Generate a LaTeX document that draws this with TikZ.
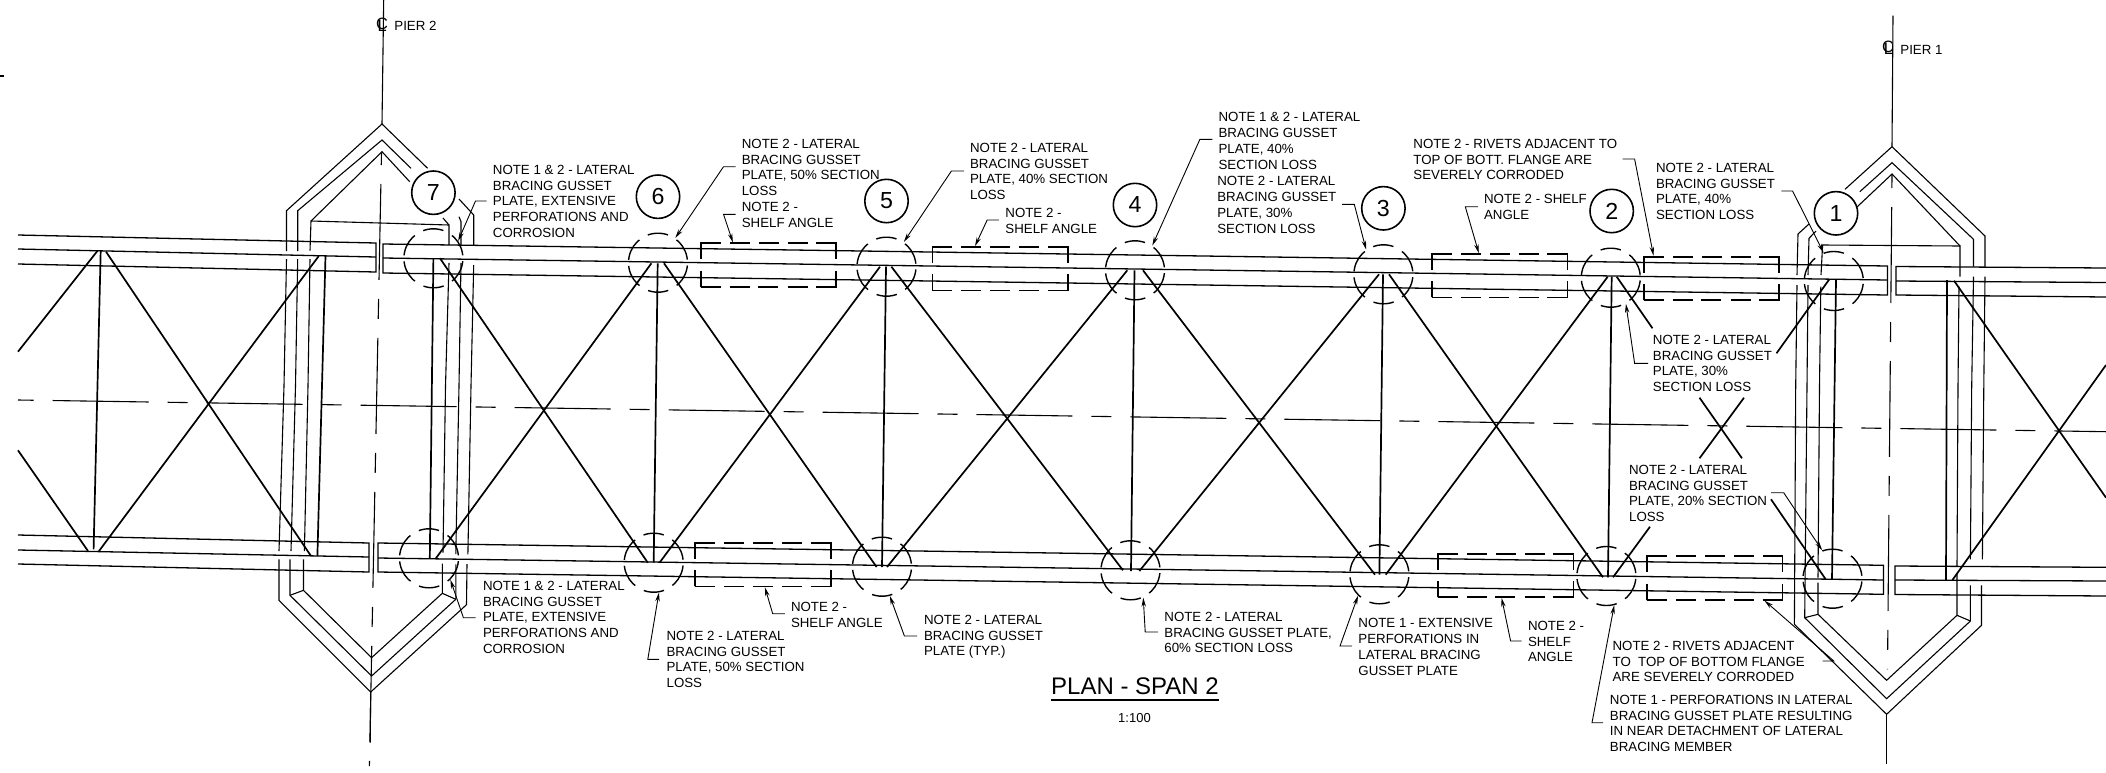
\documentclass[tikz,border=0pt]{standalone}
\usepackage{fontspec}
\setmainfont{Liberation Sans}
\usetikzlibrary{arrows.meta}
\tikzset{
  beam/.style={line width=0.85pt},
  chord/.style={line width=0.65pt},
  frame/.style={line width=0.55pt},
  axisline/.style={
    line width=0.55pt,
    dash pattern=on 10pt off 9.5pt on 48pt off 9.5pt % short and long strokes
  },
  gussetmark/.style={
    draw=black,           % black border
    circle,               % shape
    line width=0.7pt,
    minimum size=29.5pt,
    inner sep=0pt,
    dash pattern=on 10.3pt off 4.9pt on 11.6pt off 3pt on 11.6pt off 4.95pt, % short arc on top, two at the side
    dash phase=28.3pt
  },
  shelfbox/.style={
    draw=black,
    rectangle,
    line width=0.9pt,
    minimum width=67.8pt,
    minimum height=21.7pt,
    inner sep=0pt,
    dash pattern=on 10pt off 4.4pt on 10pt off 4.4pt on 10pt off 4.6pt on 10pt off 4.4pt on 18pt off 5.7pt on 8pt off 0pt
  },
  panelmark/.style={
    draw=black,
    circle,
    line width=0.8pt,
    minimum size=21.7pt,
    inner sep=0pt,
    font=\fontsize{11.6}{12}\selectfont
  },
  notetext/.style={
    anchor=north west,
    align=left,
    inner sep=0pt,
    yshift=2.4pt,
    font=\fontsize{6.65}{7.95}\selectfont
  },
  clmark/.style={
    inner sep=0pt,
    font=\fontsize{8.2}{9}\selectfont
  },
  leader/.style={
    line width=0.45pt,
    -{Stealth[length=4.5pt,width=2.2pt]}
  }
}
\begin{document}
\begin{tikzpicture}[x=0.5pt,y=-0.5pt]
\useasboundingbox (0,0) rectangle (2106,772);

% stray sheet mark
\draw[frame] (0,76) -- (4,76);

% chords, north side
\draw[chord] (18,235) -- (376,243) -- (376,272) -- (18,264);
\draw[chord] (18,249) -- (376,257);
\draw[chord] (1887.5,266) -- (383,244) -- (383,273) -- (1887.5,295) -- cycle;
\draw[chord] (383,258) -- (1887.5,280);
\draw[chord] (2106,268) -- (1896,266.5) -- (1896,295) -- (2106,297);
\draw[chord] (1896,281) -- (2106,282.5);
% chords, south side
\draw[chord] (18,535) -- (369,543) -- (369,572) -- (18,564);
\draw[chord] (18,550) -- (369,557);
\draw[chord] (1883.5,565.3) -- (378,543) -- (378,572) -- (1883.5,594.3) -- cycle;
\draw[chord] (378,558) -- (1883.5,580);
\draw[chord] (2106,567.3) -- (1895,566) -- (1895,594.5) -- (2106,596);
\draw[chord] (1895,580) -- (2106,581);

% struts
\draw[beam] (100.7,251) -- (93.6,549.3);
\draw[beam] (325.5,256) -- (317.4,556);
\draw[beam] (433.4,258.3) -- (429.8,558.7);
\draw[beam] (657.7,263.3) -- (653.7,562.7);
\draw[beam] (886,266.7) -- (882,567);
\draw[beam] (1134.5,270.3) -- (1131,571);
\draw[beam] (1383,274.3) -- (1379.4,574.7);
\draw[beam] (1611.7,276.7) -- (1608,577.3);
\draw[beam] (1836,279.3) -- (1832,579.3);
\draw[beam] (1947,280) -- (1946,580);

% diagonals
\draw[beam] (97.6,250.7) -- (18,351.7);
\draw[beam] (88,551) -- (18,450.3);
\draw[beam] (106,251.7) -- (311,556);
\draw[beam] (98.5,551.7) -- (318.8,256);
\draw[beam] (440,258.3) -- (647.8,562.7);
\draw[beam] (435.6,558.7) -- (651.4,263.3);
\draw[beam] (664,263.3) -- (876.6,567);
\draw[beam] (659.5,562.7) -- (880,266.7);
\draw[beam] (891.4,266.7) -- (1123,570.3);
\draw[beam] (887,567) -- (1127.3,270.3);
\draw[beam] (1143,270.3) -- (1375,574.7);
\draw[beam] (1139.4,571) -- (1379,274.3);
\draw[beam] (1389,274.3) -- (1603,577.3);
\draw[beam] (1385.7,574.7) -- (1607.7,276.7);
\draw[beam] (1616.7,276.7) -- (1652.5,328.3);
\draw[beam] (1699.5,397.7) -- (1742,458.3);
\draw[beam] (1771,499.3) -- (1825.7,579.3);
\draw[beam] (1613,577.3) -- (1650,526.7);
\draw[beam] (1699.5,458.3) -- (1744,397.7);
\draw[beam] (1776.5,353.3) -- (1829.3,279.3);
\draw[beam] (1954,280.7) -- (2106,497.7);
\draw[beam] (1952.4,580) -- (2106,365);

% bridge axis
\draw[axisline,dash phase=2.2pt] (18,400) -- (2106,431.7);

% pier 2 frame, north half
\draw[frame] (383.7,0) -- (382,124);
\draw[frame] (284,386) -- (286.5,259);
\draw[frame] (286.5,251) -- (286.5,210.7) -- (382,124) -- (427.6,168.3);
\draw[frame] (459,199) -- (473.7,215) -- (473.7,245);
\draw[frame] (473.7,265) -- (471,386);
\draw[frame] (295.5,386) -- (297.7,259);
\draw[frame] (297.7,251) -- (297.7,210.7) -- (382,140) -- (411,168.3);
\draw[frame] (459,216.7) -- (461,221.7) -- (461,245);
\draw[frame] (461,263) -- (459,386);
\draw[frame] (308,386) -- (310,259);
\draw[frame] (310,250.7) -- (311,221) -- (382,151.7) -- (409.7,181.7);
\draw[frame] (443,218) -- (449,225) -- (449,245);
\draw[frame] (311,221) -- (449,225);
\draw[frame] (449,263) -- (445.5,386);
% pier 2 frame, south half
\draw[frame] (284,386) -- (279,551);
\draw[frame] (279,559.3) -- (279,600.3) -- (370.7,692) -- (466.5,604.7) -- (467,564);
\draw[frame] (471,386) -- (467.9,554.3);
\draw[frame] (295.5,386) -- (291,551);
\draw[frame] (290,559.3) -- (290,595.3) -- (371.6,676) -- (455.8,599.3) -- (455.8,564.3);
\draw[frame] (459,386) -- (455.8,554);
\draw[frame] (308,386) -- (304.4,551);
\draw[frame] (303.5,559.3) -- (303.5,590.3) -- (371.6,657.7) -- (442.3,593.3) -- (442.3,563.7);
\draw[frame] (445.5,386) -- (443,552.7);
\draw[frame] (290,595.3) -- (303.5,590.3);
\draw[frame] (442.3,593.3) -- (455.8,599.3);
\draw[frame] (370.7,692) -- (370.2,742.7);
\draw[axisline,dash phase=4pt] (381.5,153) -- (369.4,766);

% pier 1 frame, north half
\draw[frame] (1893,15.7) -- (1892,146.7);
\draw[frame] (1795.7,386) -- (1797,285);
\draw[frame] (1797,275) -- (1798,234) -- (1809,224);
\draw[frame] (1845,189.3) -- (1892,146.7) -- (1985,236) -- (1985,266.7);
\draw[frame] (1985,276.7) -- (1983.8,386);
\draw[frame] (1807,386) -- (1808,285);
\draw[frame] (1808,275) -- (1809,238.3) -- (1816,231);
\draw[frame] (1859.8,191.7) -- (1892,162.7) -- (1973.5,239.3) -- (1973.5,266.7);
\draw[frame] (1973.5,276.7) -- (1971.7,386);
\draw[frame] (1819.5,386) -- (1820.8,286.7);
\draw[frame] (1821,275) -- (1822.6,245) -- (1960,246) -- (1960,276.7);
\draw[frame] (1857,207) -- (1892,174) -- (1960,246);
\draw[frame] (1959,286.7) -- (1958,386);
% pier 1 frame, south half
\draw[frame] (1795.7,386) -- (1794.4,624.3) -- (1886.6,714.3) -- (1981.5,625.3) -- (1981.5,585.3);
\draw[frame] (1983.8,386) -- (1982.4,559.3);
\draw[frame] (1807,386) -- (1804.7,617.7) -- (1886.6,698.7) -- (1970.4,621) -- (1970.4,585.3);
\draw[frame] (1971.7,386) -- (1970.4,559.3);
\draw[frame] (1819.5,386) -- (1818,577.7);
\draw[frame] (1818,582.7) -- (1818,614.3) -- (1886.6,680.3) -- (1957,615.3) -- (1957,573);
\draw[frame] (1958,386) -- (1957,566);
\draw[frame] (1804.7,617.7) -- (1818,614.3);
\draw[frame] (1957,615.3) -- (1970.4,621);
\draw[frame] (1886.6,714.3) -- (1886.6,764.3);
\draw[axisline,dash phase=3.5pt] (1892,175) -- (1887.5,669.3);

% gusset plates
\node[gussetmark] (gn7) at (433.4,258.3) {};
\node[gussetmark] (gn6) at (658,262.7) {};
\node[gussetmark] (gn5) at (886.5,266.7) {};
\node[gussetmark] (gn4) at (1135,270.3) {};
\node[gussetmark] (gn3) at (1383.4,274.3) {};
\node[gussetmark] (gn2) at (1610.8,277.7) {};
\node[gussetmark] (gn1) at (1833.8,281) {};
\node[gussetmark] (gs7) at (429,558.3) {};
\node[gussetmark] (gs6) at (653.7,562.7) {};
\node[gussetmark] (gs5) at (882,566.7) {};
\node[gussetmark] (gs4) at (1130.5,570.3) {};
\node[gussetmark] (gs3) at (1379.4,574.3) {};
\node[gussetmark] (gs2) at (1606.4,576) {};
\node[gussetmark] (gs1) at (1832.5,578.7) {};

% shelf angles
\node[shelfbox] (sa1) at (768.5,265) {};
\node[shelfbox] (sa2) at (1000.2,268.7) {};
\node[shelfbox] (sa3) at (1499.6,275.7) {};
\node[shelfbox] (sa4) at (1711.5,278.3) {};
\node[shelfbox] (sa5) at (762.9,564.7) {};
\node[shelfbox] (sa6) at (1505.6,575.3) {};
\node[shelfbox] (sa7) at (1714.7,578) {};

% panel numbers
\node[panelmark] (pm7) at (433.4,192.7) {7};
\node[panelmark] (pm6) at (658,196.7) {6};
\node[panelmark] (pm5) at (886.5,201) {5};
\node[panelmark] (pm4) at (1135,205) {4};
\node[panelmark] (pm3) at (1383.4,208.3) {3};
\node[panelmark] (pm2) at (1611.7,211) {2};
\node[panelmark] (pm1) at (1836,213.3) {1};

% notes along the north side
\node[notetext] (nt1) at (492.5,169.3) {NOTE 1 \& 2 - LATERAL\\BRACING GUSSET\\PLATE, EXTENSIVE\\PERFORATIONS AND\\CORROSION};
\node[notetext] (nt2) at (741.4,143.3) {NOTE 2 - LATERAL\\BRACING GUSSET\\PLATE, 50\% SECTION\\LOSS};
\node[notetext] (nt3) at (741.4,206.7) {NOTE 2 -\\SHELF ANGLE};
\node[notetext] (nt4) at (969.7,147.3) {NOTE 2 - LATERAL\\BRACING GUSSET\\PLATE, 40\% SECTION\\LOSS};
\node[notetext] (nt5) at (1005,212.3) {NOTE 2 -\\SHELF ANGLE};
\node[notetext] (nt6) at (1218.2,117) {NOTE 1 \& 2 - LATERAL\\BRACING GUSSET\\PLATE, 40\%\\SECTION LOSS};
\node[notetext] (nt7) at (1216.9,181) {NOTE 2 - LATERAL\\BRACING GUSSET\\PLATE, 30\%\\SECTION LOSS};
\node[notetext] (nt8) at (1413,143.3) {NOTE 2 - RIVETS ADJACENT TO\\TOP OF BOTT. FLANGE ARE\\SEVERELY CORRODED};
\node[notetext] (nt9) at (1483.7,198.3) {NOTE 2 - SHELF\\ANGLE};
\node[notetext] (nt10) at (1655.6,167.3) {NOTE 2 - LATERAL\\BRACING GUSSET\\PLATE, 40\%\\SECTION LOSS};
\node[notetext] (nt11) at (1652.5,339.3) {NOTE 2 - LATERAL\\BRACING GUSSET\\PLATE, 30\%\\SECTION LOSS};
\node[notetext] (nt12) at (1628.7,469.3) {NOTE 2 - LATERAL\\BRACING GUSSET\\PLATE, 20\% SECTION\\LOSS};
% notes along the south side
\node[notetext] (nt13) at (482.6,585.3) {NOTE 1 \& 2 - LATERAL\\BRACING GUSSET\\PLATE, EXTENSIVE\\PERFORATIONS AND\\CORROSION};
\node[notetext] (nt14) at (666.2,635.3) {NOTE 2 - LATERAL\\BRACING GUSSET\\PLATE, 50\% SECTION\\LOSS};
\node[notetext] (nt15) at (790.6,606.3) {NOTE 2 -\\SHELF ANGLE};
\node[notetext] (nt16) at (923.6,619.3) {NOTE 2 - LATERAL\\BRACING GUSSET\\PLATE (TYP.)};
\node[notetext] (nt17) at (1164,616.3) {NOTE 2 - LATERAL\\BRACING GUSSET PLATE,\\60\% SECTION LOSS};
\node[notetext] (nt18) at (1358,622.7) {NOTE 1 - EXTENSIVE\\PERFORATIONS IN\\LATERAL BRACING\\GUSSET PLATE};
\node[notetext] (nt19) at (1527.6,625.3) {NOTE 2 -\\SHELF\\ANGLE};
\node[notetext] (nt20) at (1612.2,645.3) {NOTE 2 - RIVETS ADJACENT\\TO\ \ TOP OF BOTTOM FLANGE\\ARE SEVERELY CORRODED};
\node[notetext] (nt21) at (1609.5,699.3) {NOTE 1 - PERFORATIONS IN LATERAL\\BRACING GUSSET PLATE RESULTING\\IN NEAR DETACHMENT OF LATERAL\\BRACING MEMBER};

% pier labels and title
\node[notetext] (pier2) at (394,26) {PIER 2};
\node[notetext] (pier1) at (1900,49.3) {PIER 1};
\node[clmark] (clp2) at (381.5,25) {\rlap{C}\kern0.8pt\raisebox{-1.2pt}{L}};
\node[clmark] (clp1) at (1887.5,47.7) {\rlap{C}\kern0.8pt\raisebox{-1.2pt}{L}};
\node[inner sep=0pt,font=\fontsize{12}{13}\selectfont] (title) at (1135,686.7) {PLAN - SPAN 2};
\draw[line width=1.2pt] (title.west |- 0,699.7) -- (title.east |- 0,699.7);
\node[inner sep=0pt,font=\fontsize{6.5}{8}\selectfont] (scale) at (1134.5,717.7) {1:100};

% leader ends beside the notes
\coordinate (ln1) at (486.7,201);
\coordinate (ln2) at (735.6,166.7);
\coordinate (ln3) at (735.6,214.3);
\coordinate (ln4) at (964,171);
\coordinate (ln5) at (998.8,220);
\coordinate (ln6) at (1212.4,139.3);
\coordinate (ln7) at (1342,204.3);
\coordinate (ln8) at (1622.5,159);
\coordinate (ln9) at (1477.9,206.7);
\coordinate (ln10) at (1781.4,191);
\coordinate (ln11) at (1648,363.3);
\coordinate (ln12) at (1771,492.7);
\coordinate (ln13) at (475.5,617.7);
\coordinate (ln14) at (659,659.3);
\coordinate (ln15) at (784.8,613.7);
\coordinate (ln16) at (917,636);
\coordinate (ln17) at (1157.8,632);
\coordinate (ln18) at (1352,646);
\coordinate (ln19) at (1521.7,641);
\coordinate (ln20) at (1822.6,661);
\coordinate (ln21) at (1603.2,722.7);

% leaders
\draw[leader] (ln1) -- ++(-11.2,0) -- (gn7.35);
\draw[leader] (ln2) -- ++(-12.1,0) -- (gn6.55);
\draw[leader] (ln3) -- ++(-12.1,0) -- ([xshift=-17.8pt]sa1.north);
\draw[leader] (ln4) -- ++(-12.6,0) -- (gn5.55);
\draw[leader] (ln5) -- ++(-11.6,0) -- ([xshift=-12.6pt]sa2.north);
\draw[leader] (ln6) -- ++(-12.5,0) -- (gn4.55);
\draw[leader] (ln7) -- ++(12.3,0) -- (gn3.125);
\draw[leader] (ln8) -- ++(12.1,0) -- ([xshift=-29pt]sa4.north);
\draw[leader] (ln9) -- ++(-12.6,0) -- ([xshift=-10.4pt]sa3.north);
\draw[leader] (ln10) -- ++(11.2,0) -- (gn1.110);
\draw[leader] (ln11) -- ++(-13.4,0) -- (gn2.300);
\draw[leader] (ln12) -- ++(12.7,0) -- (gs1.110);
\draw[leader] (ln13) -- ++(-12.1,0) -- (gs7.315);
\draw[leader] (ln14) -- ++(-11.2,0) -- (gs6.280);
\draw[leader] (ln15) -- ++(-12.1,0) -- ([xshift=1pt]sa5.south);
\draw[leader] (ln16) -- ++(-12.6,0) -- (gs5.285);
\draw[leader] (ln17) -- ++(-12.6,0) -- (gs4.295);
\draw[leader] (ln18) -- ++(-12,0) -- (gs3.225);
\draw[leader] (ln19) -- ++(-11.1,0) -- ([xshift=-2pt]sa6.south);
\draw[leader] (ln20) -- ++(11.2,0) -- ([xshift=24.9pt]sa7.south);
\draw[leader] (ln21) -- ++(-11.2,0) -- (gs2.285);
\end{tikzpicture}
\end{document}
